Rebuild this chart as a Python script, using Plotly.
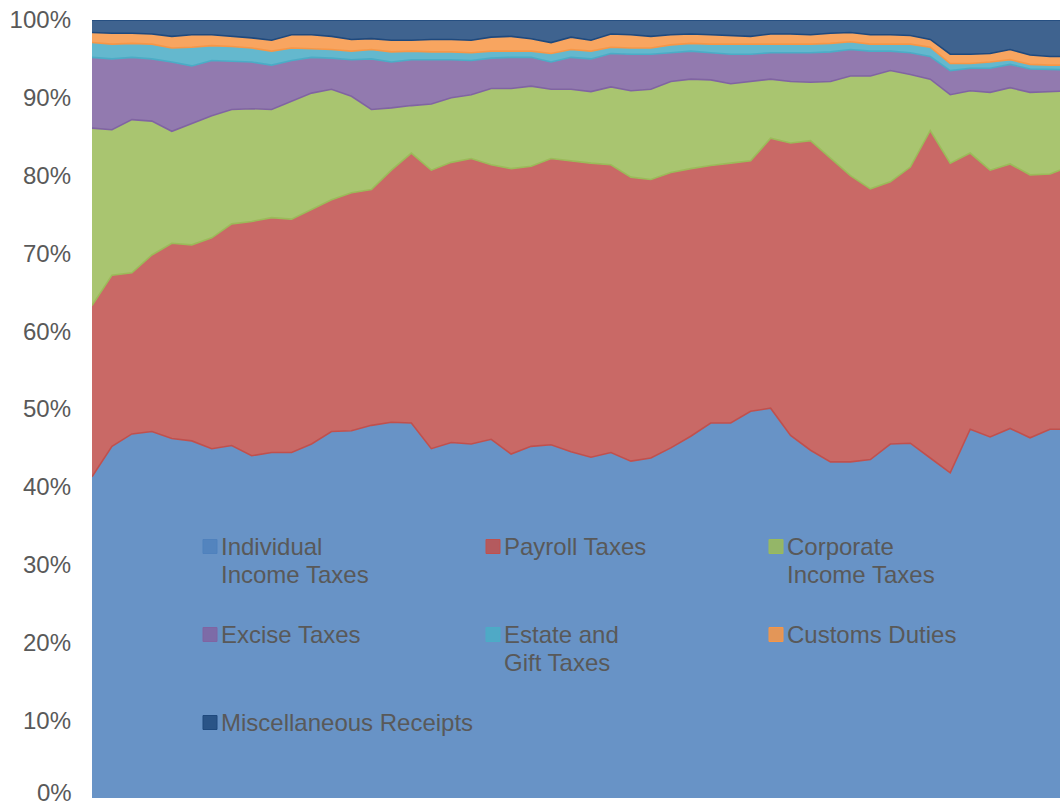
import plotly.graph_objects as go

# Share of federal receipts by source (percent of total), one value per period
periods = list(range(50))

individual = [41.3, 45.2, 46.8, 47.1, 46.2, 45.9, 44.9, 45.3, 44.0, 44.4,
              44.4, 45.5, 47.1, 47.2, 47.9, 48.3, 48.2, 44.9, 45.7, 45.5,
              46.1, 44.2, 45.2, 45.4, 44.5, 43.8, 44.4, 43.3, 43.7, 45.0,
              46.5, 48.2, 48.2, 49.7, 50.1, 46.6, 44.7, 43.2, 43.2, 43.5,
              45.5, 45.6, 43.7, 41.8, 47.4, 46.4, 47.5, 46.3, 47.4, 47.4]
payroll = [22.0, 22.0, 20.7, 22.7, 25.1, 25.2, 27.1, 28.5, 30.1, 30.2,
           30.0, 30.1, 29.8, 30.6, 30.3, 32.4, 34.7, 35.8, 36.0, 36.7,
           35.3, 36.7, 36.0, 36.8, 37.4, 37.8, 37.0, 36.5, 35.8, 35.4,
           34.4, 33.1, 33.4, 32.2, 34.7, 37.6, 39.8, 39.0, 36.8, 34.8,
           33.7, 35.5, 42.1, 39.8, 35.5, 34.3, 34.0, 33.8, 32.8, 33.8]
corporate = [22.8, 18.7, 19.7, 17.2, 14.4, 15.6, 15.7, 14.7, 14.5, 13.9,
             15.2, 15.0, 14.2, 12.4, 10.3, 8.0, 6.1, 8.5, 8.3, 8.2,
             9.8, 10.3, 10.3, 8.9, 9.2, 9.2, 10.0, 11.1, 11.6, 11.7,
             11.5, 11.0, 10.2, 10.2, 7.6, 7.9, 7.5, 9.9, 12.8, 14.5,
             14.3, 11.9, 6.6, 8.8, 8.0, 10.0, 9.8, 10.6, 10.6, 9.7]
excise = [9.1, 9.1, 8.0, 8.0, 8.9, 7.4, 7.1, 6.2, 6.0, 5.7,
          5.2, 4.6, 4.0, 4.7, 6.5, 5.9, 5.9, 5.7, 4.9, 4.4,
          3.9, 4.0, 3.7, 3.5, 4.1, 4.2, 4.3, 4.7, 4.5, 3.7,
          3.6, 3.5, 3.8, 3.5, 3.4, 3.7, 3.8, 3.8, 3.4, 3.2,
          2.5, 2.8, 2.9, 3.1, 2.9, 3.1, 3.0, 3.0, 2.8, 2.7]
estate_gift = [1.9, 1.9, 1.8, 1.9, 1.8, 2.4, 1.9, 1.9, 1.8, 1.8,
               1.6, 1.1, 1.1, 1.1, 1.2, 1.3, 1.1, 1.0, 1.0, 1.0,
               0.9, 0.8, 0.8, 1.1, 1.0, 1.0, 0.8, 0.8, 0.8, 1.0,
               1.0, 1.1, 1.3, 1.3, 1.1, 1.1, 1.1, 1.1, 1.0, 0.9,
               0.9, 1.1, 1.2, 0.9, 0.6, 0.8, 0.6, 0.6, 0.6, 0.6]
customs = [1.3, 1.4, 1.3, 1.3, 1.5, 1.6, 1.4, 1.3, 1.3, 1.4,
           1.7, 1.8, 1.7, 1.5, 1.4, 1.5, 1.4, 1.6, 1.6, 1.6,
           1.8, 1.9, 1.6, 1.4, 1.6, 1.4, 1.7, 1.7, 1.5, 1.3,
           1.2, 1.2, 1.1, 1.0, 1.3, 1.3, 1.2, 1.3, 1.2, 1.2,
           1.2, 1.1, 1.0, 1.2, 1.2, 1.1, 1.3, 1.2, 1.1, 1.1]
misc = [1.6, 1.7, 1.7, 1.8, 2.1, 1.9, 1.9, 2.1, 2.3, 2.6,
        1.9, 1.9, 2.1, 2.5, 2.4, 2.6, 2.6, 2.5, 2.5, 2.6,
        2.2, 2.1, 2.4, 2.9, 2.2, 2.6, 1.8, 1.9, 2.1, 1.9,
        1.8, 1.9, 2.0, 2.1, 1.8, 1.8, 1.9, 1.7, 1.6, 1.9,
        1.9, 2.0, 2.5, 4.4, 4.4, 4.3, 3.8, 4.5, 4.7, 4.7]

series_names = ["Individual Income Taxes", "Payroll Taxes", "Corporate Income Taxes",
                "Excise Taxes", "Estate and Gift Taxes", "Customs Duties",
                "Miscellaneous Receipts"]
series_values = [individual, payroll, corporate, excise, estate_gift, customs, misc]
base_colors = ["#4F81BD", "#C0504D", "#9BBB59", "#8064A2", "#4BACC6", "#F79646", "#1F497D"]

# legend entries, split over lines as they are set in the legend block
legend_lines = [["Individual", "Income Taxes"], ["Payroll Taxes"], ["Corporate", "Income Taxes"],
                ["Excise Taxes"], ["Estate and", "Gift Taxes"], ["Customs Duties"],
                ["Miscellaneous Receipts"]]

y_ticks = [0, 10, 20, 30, 40, 50, 60, 70, 80, 90, 100]
y_tick_labels = ["", "10%", "20%", "30%", "40%", "50%", "60%", "70%", "80%", "90%", "100%"]
zero_label = "0%"

FILL_ALPHA = 0.86
TEXT = "#595959"
FONT = "Liberation Sans, Arial, sans-serif"


def rgba(hex_color, a):
    h = hex_color.lstrip("#")
    r, g, b = int(h[0:2], 16), int(h[2:4], 16), int(h[4:6], 16)
    return f"rgba({r},{g},{b},{a})"


fig = go.Figure()
for i, (name, vals, col) in enumerate(zip(series_names, series_values, base_colors)):
    # the edge along each band's top takes the colour of the band above it
    edge = base_colors[i + 1] if i + 1 < len(base_colors) else col
    fig.add_trace(go.Scatter(
        x=periods, y=vals, name=name, mode="lines",
        stackgroup="receipts", groupnorm="percent",
        line=dict(color=edge, width=1.6),
        fillcolor=rgba(col, FILL_ALPHA),
        showlegend=False,
    ))

W, H = 1060, 806
ML, MR, MT, MB = 92, 0, 20, 8
PW, PH = W - ML - MR, H - MT - MB


def xp(px):
    return (px - ML) / PW


def yp(py):
    return (H - MB - py) / PH


# in-plot legend: three columns, three rows
col_x = [203, 486, 769]
row_y = [553.5, 641.5, 729.5]   # bottom edge of each swatch
sq = 14
line_gap = 27.8
annotations = []
shapes = []
for k, (lines, col) in enumerate(zip(legend_lines, base_colors)):
    c, r = k % 3, k // 3
    x0 = col_x[c]
    yb = row_y[r]
    shapes.append(dict(type="rect", xref="paper", yref="paper",
                       x0=xp(x0), x1=xp(x0 + sq), y0=yp(yb), y1=yp(yb - sq),
                       fillcolor=rgba(col, FILL_ALPHA),
                       line=dict(color=col, width=1), layer="above"))
    for j, txt in enumerate(lines):
        base_line = yb + 1 + j * line_gap
        annotations.append(dict(
            text=txt, xref="paper", yref="paper",
            x=xp(x0 + sq + 4), y=yp(base_line - 8.3),
            xanchor="left", yanchor="middle", showarrow=False,
            borderpad=0, borderwidth=0,
            font=dict(family=FONT, size=24, color=TEXT),
        ))

# the lowest axis label sits on the page's bottom edge, kept inside the page
annotations.append(dict(
    text=zero_label, xref="paper", yref="paper",
    x=xp(72), y=yp(H), xanchor="right", yanchor="bottom", showarrow=False,
    borderpad=0, borderwidth=0,
    font=dict(family=FONT, size=24, color=TEXT),
))

fig.update_layout(
    width=W, height=H,
    margin=dict(l=ML, r=MR, t=MT, b=MB, pad=0, autoexpand=False),
    paper_bgcolor="white", plot_bgcolor="white",
    showlegend=False,
    font=dict(family=FONT, size=24, color=TEXT),
    xaxis=dict(range=[0, 48.5], showticklabels=False, showgrid=False,
               zeroline=False, showline=False, ticks="", automargin=False),
    yaxis=dict(range=[0, 100], tickmode="array", tickvals=y_ticks, ticktext=y_tick_labels,
               showgrid=False, zeroline=False, showline=False, automargin=False,
               ticks="", ticklabelstandoff=20,
               tickfont=dict(family=FONT, size=24, color=TEXT)),
    annotations=annotations,
    shapes=shapes,
)

fig.write_html("out.html")
